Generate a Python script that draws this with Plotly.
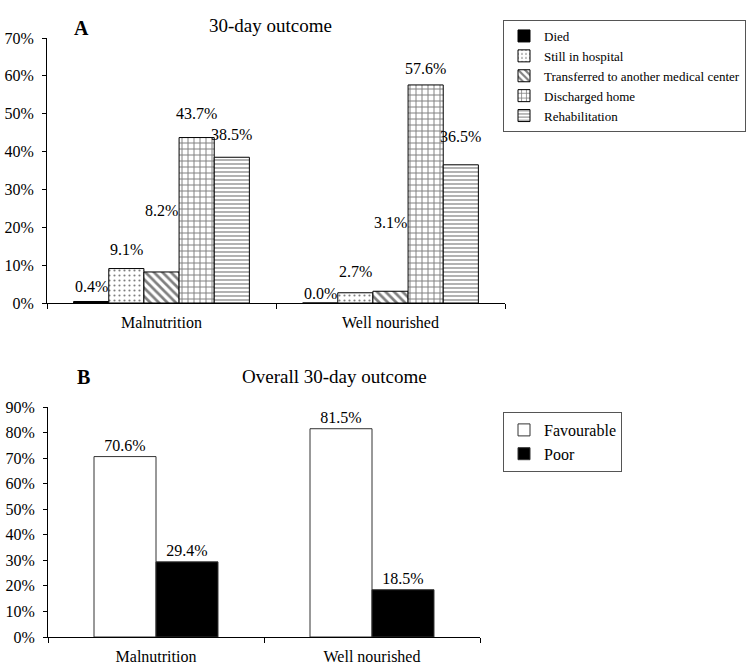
import plotly.graph_objects as go

# ---------------- data ----------------
groups = ["Malnutrition", "Well nourished"]

outcomes_a = ["Died", "Still in hospital", "Transferred to another medical center",
              "Discharged home", "Rehabilitation"]
died = [0.4, 0.0]
still_in_hospital = [9.1, 2.7]
transferred = [8.2, 3.1]
discharged_home = [43.7, 57.6]
rehabilitation = [38.5, 36.5]
series_a = [died, still_in_hospital, transferred, discharged_home, rehabilitation]

outcomes_b = ["Favourable", "Poor"]
favourable = [70.6, 81.5]
poor = [29.4, 18.5]
series_b = [favourable, poor]

ticks_a = [0, 10, 20, 30, 40, 50, 60, 70]
ticks_b = [0, 10, 20, 30, 40, 50, 60, 70, 80, 90]
ticklabels_a = [f"{t}%" for t in ticks_a]
ticklabels_b = [f"{t}%" for t in ticks_b]

title_a = "30-day outcome"
title_b = "Overall 30-day outcome"

# ---------------- styles ----------------
FONT = "Liberation Serif"
W, H = 750, 665

patterns_a = [
    None,
    dict(shape=".", size=5, solidity=0.15, fgcolor="black", bgcolor="white"),
    dict(shape="\\", size=6, solidity=0.45, fgcolor="black", bgcolor="white"),
    dict(shape="+", size=6, solidity=0.3, fgcolor="black", bgcolor="white"),
    dict(shape="-", size=4, solidity=0.3, fgcolor="black", bgcolor="white"),
]
colors_a = ["black", "white", "white", "white", "white"]
bar_w_a = 0.1535
offsets_a = [-2.5 * bar_w_a + i * bar_w_a for i in range(5)]
# pixel lift of each value label above its bar top (per series, per group)
label_lift_a = [[15, 10], [19, 21], [61, 69], [24, 16], [23, 28]]

colors_b = ["white", "black"]
bar_w_b = 0.287
offsets_b = [-bar_w_b, 0.0]


def px_x(p):
    return p / W


def px_y(p):
    return 1 - p / H


fig = go.Figure()

# ---- Panel A ----
for i, (name, vals) in enumerate(zip(outcomes_a, series_a)):
    marker = dict(color=colors_a[i], line=dict(color="black", width=1))
    if patterns_a[i] is not None:
        marker["pattern"] = patterns_a[i]
    fig.add_trace(go.Bar(
        x=groups, y=vals, name=name, marker=marker,
        width=bar_w_a, offset=offsets_a[i],
        xaxis="x", yaxis="y", legend="legend",
        hoverinfo="skip",
    ))

annotations = []
for i, vals in enumerate(series_a):
    for g, v in enumerate(vals):
        annotations.append(dict(
            x=g + offsets_a[i] + bar_w_a / 2, y=v, xref="x", yref="y",
            text=f"{v:.1f}%", showarrow=False, yanchor="middle",
            yshift=label_lift_a[i][g],
            font=dict(family=FONT, size=16, color="black"),
        ))

# ---- Panel B ----
for i, (name, vals) in enumerate(zip(outcomes_b, series_b)):
    fig.add_trace(go.Bar(
        x=groups, y=vals, name=name,
        marker=dict(color=colors_b[i], line=dict(color="#333333", width=1)),
        width=bar_w_b, offset=offsets_b[i],
        text=[f"{v:.1f}%" for v in vals], textposition="outside",
        textfont=dict(family=FONT, size=16, color="black"),
        cliponaxis=False,
        xaxis="x2", yaxis="y2", legend="legend2",
        hoverinfo="skip",
    ))

# ---- titles ----
annotations += [
    dict(x=px_x(72), y=px_y(15), xref="paper", yref="paper", text="<b>A</b>",
         showarrow=False, font=dict(family=FONT, size=20, color="black")),
    dict(x=px_x(270), y=px_y(13), xref="paper", yref="paper", text=title_a,
         showarrow=False, font=dict(family=FONT, size=19, color="black")),
    dict(x=px_x(75), y=px_y(377), xref="paper", yref="paper", text="<b>B</b>",
         showarrow=False, font=dict(family=FONT, size=20, color="black")),
    dict(x=px_x(240), y=px_y(376), xref="paper", yref="paper", text=title_b,
         showarrow=False, font=dict(family=FONT, size=19, color="black")),
]

fig.update_layout(
    width=W, height=H, autosize=False,
    margin=dict(l=0, r=0, t=0, b=0, autoexpand=False),
    paper_bgcolor="white", plot_bgcolor="white",
    barmode="overlay",
    font=dict(family=FONT, size=16, color="black"),
    xaxis=dict(domain=[px_x(47), px_x(505)], anchor="y"),
    yaxis=dict(domain=[px_y(303), px_y(38)], anchor="x", range=[0, 70],
               tickmode="array", tickvals=ticks_a, ticktext=ticklabels_a),
    xaxis2=dict(domain=[px_x(48), px_x(480)], anchor="y2"),
    yaxis2=dict(domain=[px_y(637), px_y(407)], anchor="x2", range=[0, 90],
                tickmode="array", tickvals=ticks_b, ticktext=ticklabels_b),
    legend=dict(x=px_x(746), y=px_y(20), xanchor="right", yanchor="top",
                bordercolor="#555555", borderwidth=1, bgcolor="white",
                font=dict(family=FONT, size=13, color="black"),
                itemwidth=30, tracegroupgap=0),
    legend2=dict(x=px_x(503), y=px_y(412), xanchor="left", yanchor="top",
                 bordercolor="#555555", borderwidth=1, bgcolor="white",
                 font=dict(family=FONT, size=16, color="black"),
                 itemwidth=30, tracegroupgap=0),
    annotations=annotations,
    showlegend=True,
)

fig.update_xaxes(type="category", tickson="boundaries", ticks="outside", ticklen=5,
                 tickcolor="black", showline=True, linecolor="black", linewidth=1,
                 showgrid=False, zeroline=False, automargin=False,
                 ticklabelstandoff=5,
                 tickfont=dict(family=FONT, size=16, color="black"))
fig.update_yaxes(ticks="outside", ticklen=4, tickcolor="black", showline=True,
                 linecolor="black", linewidth=1, showgrid=False, zeroline=False,
                 automargin=False, ticklabelstandoff=5,
                 tickfont=dict(family=FONT, size=16, color="black"))

# remove the page's default body margin so the 750x665 figure fills the window
fig.write_html("out.html",
               config={"displayModeBar": False},
               post_script="document.body.style.margin='0';document.body.style.overflow='hidden';")
